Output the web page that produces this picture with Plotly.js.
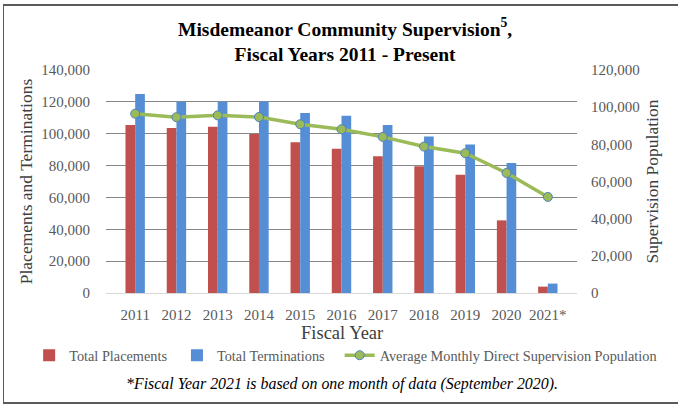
<!DOCTYPE html>
<html>
<head>
<meta charset="utf-8">
<script src="https://cdn.plot.ly/plotly-3.0.1.min.js"></script>
<style>
html,body{margin:0;padding:0;background:#fff;}
#wrap{position:relative;width:678px;height:409px;overflow:hidden;}
#chart{width:678px;height:409px;}
#frame{position:absolute;left:3px;top:4px;width:680px;height:400px;border-left:1px solid #5a5a5a;border-top:2px solid #5a5a5a;border-bottom:2px solid #5a5a5a;pointer-events:none;box-sizing:border-box;}
</style>
</head>
<body>
<div id="wrap"><div id="chart"></div><div id="frame"></div></div>
<script>
const years = ['2011','2012','2013','2014','2015','2016','2017','2018','2019','2020','2021*'];
const totalPlacements = [105500, 103600, 104400, 99800, 94600, 90600, 85800, 79500, 74300, 45600, 4000];
const totalTerminations = [124900, 120000, 120000, 120300, 113000, 111300, 105500, 98300, 93300, 81600, 5900];
const avgSupervision = [96500, 94600, 95600, 94700, 90800, 88100, 84000, 78800, 75200, 64600, 51700];

const serif = 'Liberation Serif, Times New Roman, serif';
const grey = '#595959';

const traces = [
  {type:'bar', name:'Total Placements', x:years, y:totalPlacements, marker:{color:'#C0504D'}, yaxis:'y', legend:'legend'},
  {type:'bar', name:'Total Terminations', x:years, y:totalTerminations, marker:{color:'#558ED5'}, yaxis:'y', legend:'legend2'},
  {type:'scatter', mode:'lines+markers', name:'Average Monthly Direct Supervision Population', x:years, y:avgSupervision, yaxis:'y2', legend:'legend3',
   line:{color:'#9BBB59', width:3.5}, marker:{color:'#9BBB59', size:9, line:{color:'#4F81BD', width:1}}}
];

function legendAt(x) {
  return {orientation:'h', xref:'container', yref:'container', x:x, xanchor:'left', y:0.131, yanchor:'middle',
          font:{size:14.3, color:grey}, itemwidth:30, bgcolor:'rgba(0,0,0,0)'};
}

const layout = {
  width:678, height:409,
  margin:{l:106, r:101, t:70, b:116},
  paper_bgcolor:'#fff', plot_bgcolor:'#fff',
  font:{family:serif, color:grey, size:15},
  title:{text:'<b>Misdemeanor Community Supervision<sup>5</sup>,<br>Fiscal Years 2011 - Present</b>',
         font:{family:serif, size:19.5, color:'#000'}, x:0.509, xanchor:'center', y:0.913, yanchor:'top'},
  barmode:'group', bargap:0.53, bargroupgap:0,
  xaxis:{type:'category', tickfont:{size:15, color:grey}, showgrid:false, showline:true, linecolor:'#d9d9d9', linewidth:1,
         ticks:'', ticklabelstandoff:8, automargin:false},
  yaxis:{range:[0,140000], dtick:20000, tickformat:',d', showgrid:true, gridcolor:'#878787', gridwidth:1, automargin:false,
         zeroline:true, zerolinecolor:'#d9d9d9', zerolinewidth:1, ticks:'outside', ticklen:12, tickcolor:'rgba(0,0,0,0)',
         tickfont:{size:15, color:grey}, title:{text:'Placements and Terminations', font:{size:17.5, color:'#404040'}, standoff:4}},
  yaxis2:{range:[0,120000], dtick:20000, tickformat:',d', overlaying:'y', side:'right', showgrid:false, zeroline:false, automargin:false,
          ticks:'outside', ticklen:10, tickcolor:'rgba(0,0,0,0)', tickfont:{size:15, color:grey},
          title:{text:'Supervision Population', font:{size:17.5, color:'#404040'}, standoff:6}},
  legend:legendAt(0.043),
  legend2:legendAt(0.261),
  legend3:legendAt(0.501),
  annotations:[
    {text:'Fiscal Year', xref:'paper', yref:'paper', x:0.5, y:-0.181, xanchor:'center', yanchor:'middle', showarrow:false,
     font:{size:18.5, color:'#404040', family:serif}},
    {text:'<i>*Fiscal Year 2021 is based on one month of data (September 2020).</i>', xref:'paper', yref:'paper',
     x:0.5, y:-0.41, xanchor:'center', yanchor:'middle', showarrow:false, font:{size:15.9, color:'#000', family:serif}}],
  showlegend:true
};

Plotly.newPlot('chart', traces, layout, {displayModeBar:false, staticPlot:true});
</script>
</body>
</html>
